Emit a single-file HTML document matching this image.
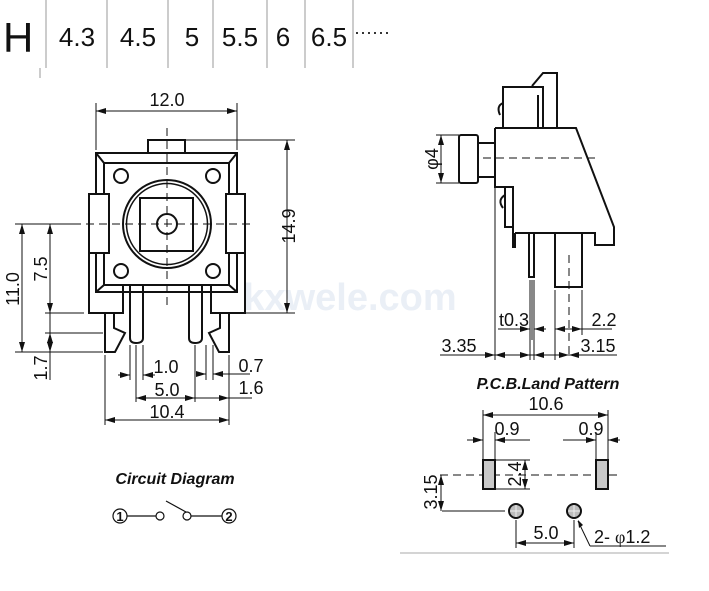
<!DOCTYPE html>
<html><head><meta charset="utf-8"><style>
html,body{margin:0;padding:0;background:#fff;}
svg{display:block;}
text{font-family:"Liberation Sans",Arial,sans-serif;fill:#111;}
</style></head><body>
<svg width="709" height="591" viewBox="0 0 709 591" xmlns="http://www.w3.org/2000/svg">
<defs>
<marker id="a" viewBox="0 0 10 6" refX="10" refY="3" markerWidth="10" markerHeight="6" orient="auto-start-reverse" markerUnits="userSpaceOnUse"><path d="M0,0L10,3L0,6z" fill="#111"/></marker>
</defs>
<!-- header -->
<text x="3" y="52" font-size="42">H</text>
<g stroke="#999" stroke-width="1">
<line x1="46" y1="0" x2="46" y2="68"/><line x1="107" y1="0" x2="107" y2="68"/><line x1="168" y1="0" x2="168" y2="68"/><line x1="213" y1="0" x2="213" y2="68"/><line x1="267" y1="0" x2="267" y2="68"/><line x1="305" y1="0" x2="305" y2="68"/><line x1="353" y1="0" x2="353" y2="68"/><line x1="40" y1="68" x2="40" y2="78"/>
</g>
<g font-size="26">
<text x="77" y="46" text-anchor="middle">4.3</text>
<text x="138" y="46" text-anchor="middle">4.5</text>
<text x="192" y="46" text-anchor="middle">5</text>
<text x="240" y="46" text-anchor="middle">5.5</text>
<text x="283" y="46" text-anchor="middle">6</text>
<text x="329" y="46" text-anchor="middle">6.5</text>
<text x="354" y="38" font-size="18">······</text>
</g>
<text x="350" y="310" font-size="38" font-weight="bold" style="fill:#eaeff6" text-anchor="middle">kxwele.com</text>

<!-- front view -->
<g fill="none" stroke="#111" stroke-width="2">
<rect x="148" y="140" width="37" height="13"/>
<rect x="96" y="153" width="141" height="139"/>
<rect x="104" y="163" width="125" height="122"/>
<path d="M96,153L104,163M237,153L229,163M96,292L104,285M237,292L229,285"/>
<rect x="89" y="194" width="20" height="59" fill="#fff"/>
<rect x="226" y="194" width="19" height="59" fill="#fff"/>
<path d="M89,253V313H123V285M245,253V313H211V285"/>
<path d="M105,313V352H115L125,333L114,328V313"/>
<path d="M229,313V352H219L209,333L220,328V313"/>
<path d="M130,285V338Q130,343 136,343Q143,343 143,338V285"/>
<path d="M189,285V338Q189,343 195,343Q202,343 202,338V285"/>
<circle cx="167" cy="224" r="44"/>
<circle cx="167" cy="224" r="40.5" stroke-width="1.5"/>
<rect x="140" y="198" width="53" height="53"/>
<circle cx="167" cy="224" r="10"/>
<circle cx="121" cy="176" r="7"/><circle cx="213" cy="176" r="7"/>
<circle cx="121" cy="271" r="7"/><circle cx="213" cy="271" r="7"/>
</g>
<g stroke="#111" stroke-width="1" fill="none">
<line x1="73" y1="224" x2="253" y2="224" stroke-dasharray="8,5"/>
<line x1="167" y1="128" x2="167" y2="310" stroke-dasharray="8,5"/>
<line x1="96" y1="103" x2="96" y2="150"/><line x1="237" y1="103" x2="237" y2="150"/>
<line x1="96" y1="111" x2="237" y2="111" marker-start="url(#a)" marker-end="url(#a)"/>
<line x1="186" y1="140" x2="295" y2="140"/><line x1="246" y1="313" x2="295" y2="313"/>
<line x1="287" y1="140" x2="287" y2="313" marker-start="url(#a)" marker-end="url(#a)"/>
<line x1="15" y1="224" x2="80" y2="224"/><line x1="45" y1="313" x2="84" y2="313"/>
<line x1="45" y1="333" x2="103" y2="333"/><line x1="15" y1="352" x2="103" y2="352"/>
<line x1="22" y1="224" x2="22" y2="352" marker-start="url(#a)" marker-end="url(#a)"/>
<line x1="50" y1="224" x2="50" y2="313" marker-start="url(#a)" marker-end="url(#a)"/>
<line x1="50" y1="313" x2="50" y2="380"/>
<line x1="50" y1="333" x2="50" y2="352" marker-start="url(#a)" marker-end="url(#a)"/>
<line x1="105" y1="355" x2="105" y2="425"/><line x1="229" y1="355" x2="229" y2="425"/>
<line x1="130" y1="345" x2="130" y2="380"/><line x1="136" y1="345" x2="136" y2="402"/><line x1="143" y1="345" x2="143" y2="380"/>
<line x1="195" y1="345" x2="195" y2="402"/><line x1="206" y1="345" x2="206" y2="380"/><line x1="213" y1="345" x2="213" y2="380"/>
<line x1="118" y1="375" x2="130" y2="375" marker-end="url(#a)"/><line x1="155" y1="375" x2="143" y2="375" marker-end="url(#a)"/>
<line x1="136" y1="398" x2="195" y2="398" marker-start="url(#a)" marker-end="url(#a)"/>
<line x1="195" y1="398" x2="229" y2="398" marker-end="url(#a)"/><line x1="229" y1="398" x2="252" y2="398"/>
<line x1="196" y1="374" x2="206" y2="374" marker-end="url(#a)"/><line x1="250" y1="374" x2="213" y2="374" marker-end="url(#a)"/>
<line x1="105" y1="420" x2="229" y2="420" marker-start="url(#a)" marker-end="url(#a)"/>
</g>
<g font-size="18">
<text x="167" y="106" text-anchor="middle">12.0</text>
<text transform="translate(295,226) rotate(-90)" text-anchor="middle">14.9</text>
<text transform="translate(19,289) rotate(-90)" text-anchor="middle">11.0</text>
<text transform="translate(47,269) rotate(-90)" text-anchor="middle">7.5</text>
<text transform="translate(47,368) rotate(-90)" text-anchor="middle">1.7</text>
<text x="166" y="373" text-anchor="middle">1.0</text>
<text x="167" y="396" text-anchor="middle">5.0</text>
<text x="167" y="418" text-anchor="middle">10.4</text>
<text x="251" y="372" text-anchor="middle">0.7</text>
<text x="251" y="394" text-anchor="middle">1.6</text>
</g>

<!-- side view -->
<g fill="none" stroke="#111" stroke-width="2">
<path d="M532,86L543,73H557V128"/>
<rect x="503" y="87" width="40" height="41"/>
<line x1="538" y1="95" x2="538" y2="128"/>
<path d="M503,103Q496,106 500,115"/>
<path d="M495,128H576L614,227V245H595V233H528M515,233V247H513V187H495V128"/>
<path d="M515,233H528"/>
<rect x="505" y="187" width="8" height="40"/>
<path d="M505,195Q497,200 503,208"/>
<rect x="459" y="135" width="19" height="48" rx="2"/>
<rect x="478" y="143" width="17" height="34"/>
<rect x="529" y="233" width="5" height="44"/>
<rect x="555" y="233" width="27" height="54"/>
</g>
<g stroke="#111" stroke-width="1" fill="none">
<line x1="483" y1="158" x2="595" y2="158" stroke-dasharray="8,5"/>
<line x1="569" y1="255" x2="569" y2="357" stroke-dasharray="8,5"/>
<line x1="436" y1="135" x2="459" y2="135"/><line x1="436" y1="183" x2="459" y2="183"/>
<line x1="441" y1="135" x2="441" y2="183" marker-start="url(#a)" marker-end="url(#a)"/>
<line x1="495" y1="183" x2="495" y2="360"/>
<line x1="530" y1="280" x2="530" y2="360"/><line x1="532" y1="280" x2="532" y2="340"/><line x1="534" y1="280" x2="534" y2="360"/>
<line x1="555" y1="290" x2="555" y2="360"/><line x1="582" y1="290" x2="582" y2="335"/>
<line x1="498" y1="329" x2="530" y2="329" marker-end="url(#a)"/><line x1="546" y1="329" x2="534" y2="329" marker-end="url(#a)"/>
<line x1="555" y1="329" x2="582" y2="329" marker-start="url(#a)" marker-end="url(#a)"/><line x1="582" y1="329" x2="612" y2="329"/>
<line x1="440" y1="355" x2="617" y2="355"/>
<line x1="483" y1="355" x2="495" y2="355" marker-end="url(#a)"/><line x1="508" y1="355" x2="495" y2="355" marker-end="url(#a)"/>
<line x1="520" y1="355" x2="530" y2="355" marker-end="url(#a)"/><line x1="544" y1="355" x2="534" y2="355" marker-end="url(#a)"/>
<line x1="558" y1="355" x2="569" y2="355" marker-end="url(#a)"/><line x1="580" y1="355" x2="569" y2="355" marker-end="url(#a)"/>
</g>
<g font-size="18">
<text transform="translate(438,159) rotate(-90)" text-anchor="middle" font-family="Liberation Serif">φ4</text>
<text x="514" y="326" text-anchor="middle">t0.3</text>
<text x="604" y="326" text-anchor="middle">2.2</text>
<text x="459" y="352" text-anchor="middle">3.35</text>
<text x="598" y="352" text-anchor="middle">3.15</text>
</g>

<!-- PCB land pattern -->
<text x="548" y="389" font-size="16" font-weight="bold" font-style="italic" text-anchor="middle">P.C.B.Land Pattern</text>
<g stroke="#111" stroke-width="1" fill="none">
<line x1="483" y1="410" x2="483" y2="460"/><line x1="608" y1="410" x2="608" y2="460"/>
<line x1="495" y1="432" x2="495" y2="460"/><line x1="596" y1="432" x2="596" y2="460"/>
<line x1="483" y1="415" x2="608" y2="415" marker-start="url(#a)" marker-end="url(#a)"/>
<line x1="467" y1="440" x2="483" y2="440" marker-end="url(#a)"/><line x1="530" y1="440" x2="495" y2="440" marker-end="url(#a)"/>
<line x1="563" y1="440" x2="596" y2="440" marker-end="url(#a)"/><line x1="620" y1="440" x2="608" y2="440" marker-end="url(#a)"/>
<line x1="440" y1="475" x2="622" y2="475" stroke-dasharray="8,5"/>
<line x1="496" y1="460" x2="530" y2="460"/><line x1="496" y1="489" x2="530" y2="489"/>
<line x1="525" y1="460" x2="525" y2="489" marker-start="url(#a)" marker-end="url(#a)"/>
<line x1="441" y1="475" x2="441" y2="511" marker-start="url(#a)" marker-end="url(#a)"/>
<line x1="442" y1="511" x2="505" y2="511"/>
<line x1="516" y1="520" x2="516" y2="548"/><line x1="574" y1="520" x2="574" y2="548"/>
<line x1="516" y1="543" x2="574" y2="543" marker-start="url(#a)" marker-end="url(#a)"/>
<path d="M590,546L578,521"/><line x1="590" y1="546" x2="666" y2="546"/>
</g>
<path d="M578,520l1,8 4,-3z" fill="#111"/>
<rect x="483" y="460" width="12" height="29" fill="#c8c8c8" stroke="#111" stroke-width="2"/>
<rect x="596" y="460" width="12" height="29" fill="#c8c8c8" stroke="#111" stroke-width="2"/>
<circle cx="516" cy="511" r="7" fill="#bcbcbc" stroke="#111" stroke-width="2"/>
<circle cx="574" cy="511" r="7" fill="#bcbcbc" stroke="#111" stroke-width="2"/>
<g stroke="#eee" stroke-width="1"><path d="M510,511h12M516,505v12M568,511h12M574,505v12"/></g>
<g font-size="18">
<text x="546" y="410" text-anchor="middle">10.6</text>
<text x="507" y="435" text-anchor="middle">0.9</text>
<text x="591" y="435" text-anchor="middle">0.9</text>
<text transform="translate(521,474) rotate(-90)" text-anchor="middle">2.4</text>
<text transform="translate(437,492) rotate(-90)" text-anchor="middle">3.15</text>
<text x="546" y="539" text-anchor="middle">5.0</text>
<text x="594" y="543">2- <tspan font-family="Liberation Serif">φ</tspan>1.2</text>
</g>
<line x1="400" y1="553" x2="669" y2="553" stroke="#aaa" stroke-width="1"/>

<!-- circuit -->
<text x="175" y="484" font-size="16" font-weight="bold" font-style="italic" text-anchor="middle">Circuit Diagram</text>
<g stroke="#111" stroke-width="1.2" fill="none">
<circle cx="120" cy="516" r="7"/><circle cx="229" cy="516" r="7"/>
<line x1="127" y1="516" x2="156" y2="516"/><circle cx="160" cy="516" r="4"/>
<line x1="166" y1="501" x2="186" y2="512"/><circle cx="187" cy="516" r="4"/>
<line x1="191" y1="516" x2="222" y2="516"/>
</g>
<text x="120" y="521" font-size="13" font-weight="bold" text-anchor="middle">1</text>
<text x="229" y="521" font-size="13" font-weight="bold" text-anchor="middle">2</text>
</svg>
</body></html>
